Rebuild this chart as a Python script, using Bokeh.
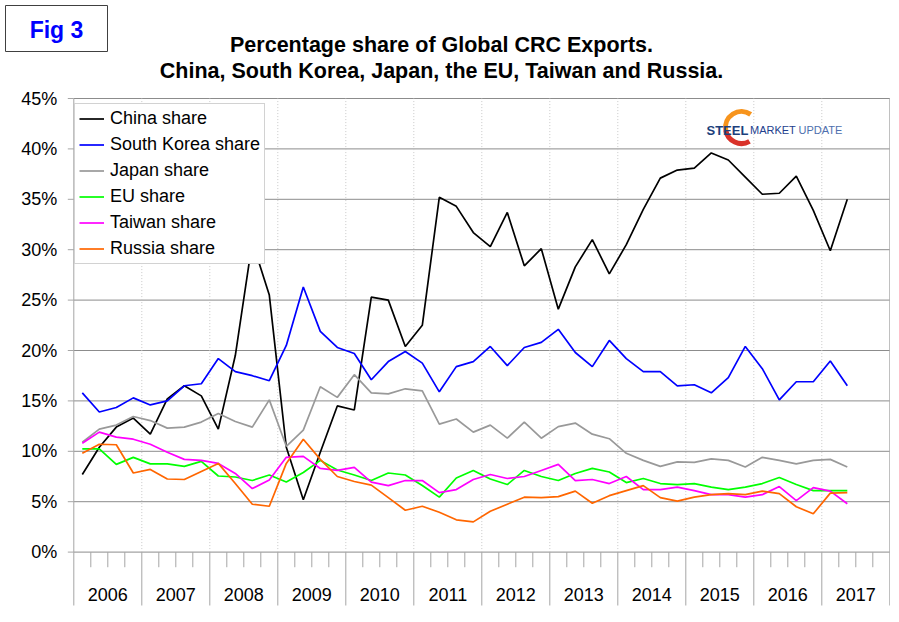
import numpy as np
from bokeh.plotting import figure
from bokeh.models import Range1d, Legend, LegendItem
from bokeh.core.properties import value
from bokeh.embed import file_html
from bokeh.resources import INLINE

# quarterly shares (%), 2006 Q1 .. 2017 Q2
years = list(range(2006, 2018))
quarters_per_year = 4

china = [7.7, 10.4, 12.4, 13.3, 11.7, 15.2, 16.5, 15.5, 12.2, 19.5, 30.8, 25.5,
         10.4, 5.2, 9.9, 14.5, 14.1, 25.3, 25.0, 20.4, 22.5, 35.2, 34.3, 31.7,
         30.3, 33.7, 28.4, 30.1, 24.1, 28.3, 31.0, 27.6, 30.5, 34.0, 37.1, 37.9,
         38.1, 39.6, 38.9, 37.2, 35.5, 35.6, 37.3, 33.9, 29.9, 35.0]
south_korea = [15.8, 13.9, 14.35, 15.3, 14.6, 15.0, 16.5, 16.7, 19.2, 17.9, 17.5, 17.0,
               20.5, 26.3, 21.9, 20.3, 19.7, 17.1, 18.9, 19.9, 18.75, 15.9, 18.4, 18.9,
               20.4, 18.5, 20.3, 20.8, 22.1, 19.8, 18.4, 21.0, 19.2, 17.9, 17.9, 16.5,
               16.6, 15.8, 17.3, 20.4, 18.2, 15.1, 16.9, 16.9, 18.95, 16.5]
japan = [10.9, 12.2, 12.6, 13.45, 13.05, 12.3, 12.4, 12.9, 13.75, 12.95, 12.4, 15.1,
         10.5, 12.1, 16.4, 15.35, 17.6, 15.8, 15.7, 16.2, 16.0, 12.7, 13.2, 11.9,
         12.6, 11.3, 12.9, 11.3, 12.45, 12.8, 11.7, 11.25, 9.8, 9.1, 8.5, 8.95,
         8.9, 9.25, 9.1, 8.45, 9.4, 9.1, 8.75, 9.1, 9.2, 8.45]
eu = [10.25, 10.25, 8.7, 9.4, 8.75, 8.75, 8.5, 9.0, 7.55, 7.45, 7.1, 7.65,
      6.95, 7.9, 9.1, 8.15, 7.65, 7.1, 7.85, 7.65, 6.6, 5.45, 7.35, 8.1,
      7.25, 6.7, 8.1, 7.5, 7.1, 7.8, 8.3, 7.95, 6.9, 7.3, 6.8, 6.7,
      6.8, 6.45, 6.2, 6.45, 6.8, 7.4, 6.7, 6.1, 6.1, 6.1]
taiwan = [10.8, 11.9, 11.4, 11.2, 10.7, 9.9, 9.2, 9.1, 8.8, 7.8, 6.3, 7.15,
          9.4, 9.5, 8.3, 8.1, 8.4, 6.95, 6.6, 7.1, 7.1, 5.9, 6.2, 7.2,
          7.7, 7.3, 7.5, 8.1, 8.7, 7.1, 7.2, 6.8, 7.5, 6.2, 6.2, 6.45,
          6.1, 5.7, 5.7, 5.45, 5.7, 6.5, 5.1, 6.4, 6.05, 4.8]
russia = [9.8, 10.7, 10.65, 7.85, 8.2, 7.25, 7.2, 8.0, 8.8, 6.8, 4.75, 4.55,
          8.8, 11.2, 9.2, 7.5, 7.0, 6.65, 5.4, 4.15, 4.55, 3.95, 3.2, 3.0,
          4.05, 4.75, 5.45, 5.4, 5.5, 6.05, 4.85, 5.6, 6.1, 6.6, 5.4, 5.05,
          5.45, 5.7, 5.8, 5.7, 6.05, 5.8, 4.5, 3.8, 5.85, 5.9]

series = [
    ("China share", china, "#000000"),
    ("South Korea share", south_korea, "#0000ff"),
    ("Japan share", japan, "#999999"),
    ("EU share", eu, "#00ff00"),
    ("Taiwan share", taiwan, "#ff00ff"),
    ("Russia share", russia, "#ff6600"),
]

y_ticks = list(range(0, 46, 5))
y_top = 45

FONT = "Liberation Sans"
GRID = "#8c8c8c"
BORDER = "#a6a6a6"

# page geometry (pixels): the frame covers the whole canvas so that the
# header, the y labels and the year scale can all be drawn in it
W, H = 890, 606
PLOT_LEFT = 73.3     # pixel x of the first quarter boundary
QUARTER_PX = 17.0    # pixels per quarter
ZERO_PX = 551.6      # pixel y of 0 %
PCT_PX = 10.08       # pixels per percentage point


def px_x(px):
    return (px - PLOT_LEFT) / QUARTER_PX


def px_y(py):
    return (ZERO_PX - py) / PCT_PX


n_q = len(years) * quarters_per_year
scale_bottom = px_y(605)   # lower end of the year scale lines

p = figure(frame_width=W, frame_height=H, min_border=0,
           x_range=Range1d(px_x(0), px_x(W)), y_range=Range1d(px_y(H), px_y(0)),
           x_axis_location=None, y_axis_location=None,
           output_backend="svg", toolbar_location=None)
p.outline_line_color = None
p.xgrid.visible = False
p.ygrid.visible = False

# header
p.rect(x=[px_x(56)], y=[px_y(28)], width=102, height=46, width_units="screen",
       height_units="screen", fill_color="white", line_color="#404040", line_width=1)
p.text(x=[px_x(56)], y=[px_y(29)], text=["Fig 3"], text_font=value(FONT),
       text_font_size="23px", text_font_style="bold", text_color="#0000ff",
       text_align="center", text_baseline="middle")
p.text(x=[px_x(441)] * 2, y=[px_y(44), px_y(70)],
       text=["Percentage share of Global CRC Exports.",
             "China, South Korea, Japan, the EU, Taiwan and Russia."],
       text_font=value(FONT), text_font_size="21.5px", text_font_style="bold",
       text_color="black", text_align="center", text_baseline="alphabetic")

# grid, borders and y scale
boundaries = [k * quarters_per_year for k in range(len(years) + 1)]
quarter_ticks = [q for q in range(1, n_q) if q % quarters_per_year]
year_mid = [k * quarters_per_year + quarters_per_year / 2 for k in range(len(years))]

p.segment(x0=0, y0=y_ticks, x1=n_q, y1=y_ticks, line_color=GRID, line_width=1)
p.segment(x0=boundaries[1:-1], y0=0, x1=boundaries[1:-1], y1=y_top,
          line_color="#c8c8c8", line_dash="1 2", line_width=1)
p.segment(x0=[0, n_q], y0=0, x1=[0, n_q], y1=y_top, line_color=BORDER, line_width=1)
p.segment(x0=-6 / QUARTER_PX, y0=y_ticks, x1=0, y1=y_ticks, line_color=BORDER, line_width=1)
p.text(x=px_x(56.7), y=y_ticks, text=[f"{t}%" for t in y_ticks],
       text_font=value(FONT), text_font_size="18px", text_align="right",
       text_baseline="middle", text_color="black")

# year / quarter scale under the plot
p.segment(x0=boundaries, y0=scale_bottom, x1=boundaries, y1=0, line_color=BORDER, line_width=1)
p.segment(x0=quarter_ticks, y0=-1.5, x1=quarter_ticks, y1=0, line_color=BORDER, line_width=1)
p.text(x=year_mid, y=px_y(594), text=[str(y) for y in years],
       text_font=value(FONT), text_font_size="18px", text_align="center",
       text_baseline="middle", text_color="black")

# logo
p.arc(x=[px_x(741)], y=[px_y(127)], radius=16, radius_units="screen",
      start_angle=np.radians(55), end_angle=np.radians(190),
      line_color="#f7941d", line_width=5)
p.arc(x=[px_x(741)], y=[px_y(127)], radius=16, radius_units="screen",
      start_angle=np.radians(190), end_angle=np.radians(300),
      line_color="#d9322a", line_width=5)
p.text(x=[px_x(706)], y=[px_y(129.5)], text=["STEEL"], text_font=value(FONT),
       text_font_size="13px", text_font_style="bold", text_color="#1c3f7c",
       text_baseline="alphabetic")
p.text(x=[px_x(749.5)], y=[px_y(129.5)], text=["MARKET"], text_font=value(FONT),
       text_font_size="11px", text_color="#23408e", text_baseline="alphabetic")
p.text(x=[px_x(798)], y=[px_y(129.5)], text=["UPDATE"], text_font=value(FONT),
       text_font_size="11px", text_color="#4e6fae", text_baseline="alphabetic")

# data
x = np.arange(len(china)) + 0.5
items = []
for name, vals, color in series:
    r = p.line(x, vals, line_color=color, line_width=1.7)
    items.append(LegendItem(label=name, renderers=[r]))

legend = Legend(items=items, location=(74, 342), margin=0, padding=4, spacing=5,
                glyph_width=25, glyph_height=21, label_height=21, label_standoff=6,
                label_text_font=FONT, label_text_font_size="18px", label_text_color="black",
                border_line_color=BORDER, background_fill_color="white",
                background_fill_alpha=1.0)
p.add_layout(legend)

open("out.html", "w").write(file_html(p, INLINE))
